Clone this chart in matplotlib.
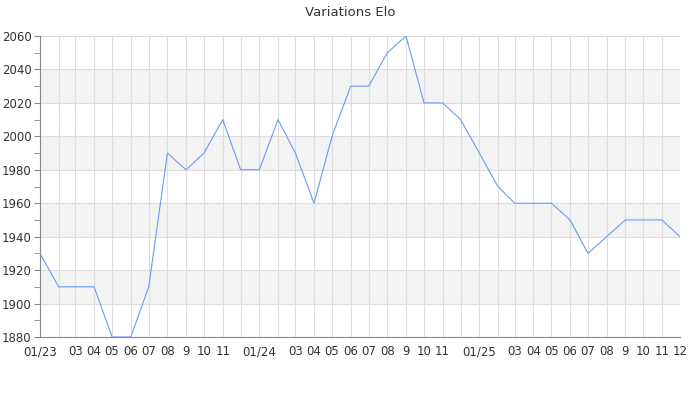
import pandas as pd
import numpy as np
import matplotlib
matplotlib.use('Agg')
import matplotlib.pyplot as plt

# Monthly Elo values, Jan 2023 -> Dec 2025
months = pd.date_range('2023-01-01', '2025-12-01', freq='MS')
elo = [1930, 1910, 1910, 1910, 1880, 1880, 1910, 1990, 1980, 1990, 2010, 1980,
       1980, 2010, 1990, 1960, 2000, 2030, 2030, 2050, 2060, 2020, 2020, 2010,
       1990, 1970, 1960, 1960, 1960, 1950, 1930, 1940, 1950, 1950, 1950, 1940]
month_labels = ['01/23', '', '03', '04', '05', '06', '07', '08', '9', '10', '11', '',
                '01/24', '', '03', '04', '05', '06', '07', '08', '9', '10', '11', '',
                '01/25', '', '03', '04', '05', '06', '07', '08', '9', '10', '11', '12']

fig = plt.figure(figsize=(7, 4), dpi=100)
ax = fig.add_axes([40/700, 63/400, 640/700, 301/400])

# alternating grey bands
for lo in range(1900, 2060, 40):
    ax.axhspan(lo, lo + 20, color='#f3f3f3', zorder=0, lw=0)

ax.plot(months, elo, color='#6a9bf0', lw=0.8, zorder=3)

ax.set_ylim(1880, 2060)
ax.set_xlim(months[0], months[-1])
ax.set_yticks(np.arange(1880, 2061, 20))
ax.set_yticks(np.arange(1890, 2060, 20), minor=True)
ax.set_xticks(months)
ax.set_xticklabels(month_labels)

ax.grid(True, which='major', color='#dddddd', lw=0.8, zorder=1)
ax.set_axisbelow(True)
for s in ['top', 'right']:
    ax.spines[s].set_visible(False)
for s in ['left', 'bottom']:
    ax.spines[s].set_color('#888888')
ax.tick_params(axis='y', which='both', length=4, color='#888888', labelsize=8.5, labelcolor='#333333', pad=2)
ax.tick_params(axis='x', length=0, labelsize=8.5, labelcolor='#333333', pad=6)

fig.suptitle('Variations Elo', y=0.985, fontsize=9.5, color='#333333')
fig.savefig('out.png', dpi=100)
